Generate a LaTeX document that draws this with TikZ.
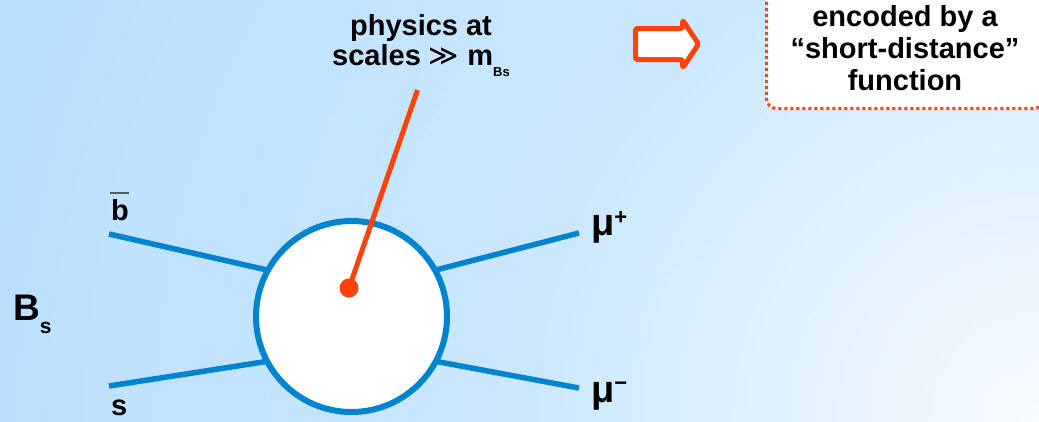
\documentclass[tikz,border=0pt]{standalone}
\usepackage{fontspec}
\setmainfont{Liberation Sans}
\newfontfamily\symfont{DejaVu Sans}
\usetikzlibrary{calc}

\definecolor{bgdeep}{RGB}{160,208,255}
\definecolor{bgmid}{RGB}{182,222,255}
\definecolor{bglight}{RGB}{204,232,255}
\definecolor{bgpale}{RGB}{248,251,255}
\definecolor{lineblue}{RGB}{0,132,208}
\definecolor{hotred}{RGB}{255,66,10}

% Sombreado radial del fondo (claro abajo a la derecha)
\pgfdeclareradialshading{bgglow}{\pgfpointorigin}{%
  color(0bp)=(bgpale); color(11bp)=(bglight); color(26bp)=(bgmid);
  color(45bp)=(bgdeep); color(75bp)=(bgdeep)}

\begin{document}
\begin{tikzpicture}[x=1pt, y=-1pt,
    quark line/.style={line width=5.5pt, lineblue},
    probe line/.style={line width=5pt, hotred},
    blob/.style={circle, draw=lineblue, line width=6pt, fill=white, minimum size=191pt, inner sep=0pt, outer sep=0pt},
    hot dot/.style={circle, fill=hotred, minimum size=19pt, inner sep=0pt},
    leg label/.style={font=\fontsize{29}{30}\selectfont\bfseries, inner sep=0pt, anchor=base west},
    top text/.style={font=\fontsize{29}{30}\selectfont\bfseries, align=center, inner sep=0pt, anchor=base},
    note box/.style={draw=hotred, fill=white, line width=3pt, dash pattern=on 3pt off 3pt, rounded corners=10pt,
        minimum width=277pt, minimum height=120pt, inner sep=0pt, align=center, font=\fontsize{29}{32}\selectfont\bfseries},
    hollow arrow/.style={draw=hotred, fill=white, line width=5pt, rounded corners=1.5pt, line join=round}
]

% 1. Fondo
\useasboundingbox (0,0) rectangle (1039,421);
\begin{scope}
  \clip (0,0) rectangle (1039,421);
  \shade[shading=bgglow] (1039,421) circle (1150);
\end{scope}

% 2. Circulo central y patas
\node[blob] (blob) at (351.5,316.5) {};
\coordinate (bbarend) at (109,234);
\coordinate (sqend) at (109,386);
\coordinate (muplusend) at (579,233);
\coordinate (muminusend) at (579,388);
\draw[quark line] (bbarend) -- (blob.151);
\draw[quark line] (sqend) -- (blob.208);
\draw[quark line] (muplusend) -- (blob.29);
\draw[quark line] (muminusend) -- (blob.332);

% 3. Punto rojo y linea hacia el texto
\node[hot dot] (core) at (349,288) {};
\coordinate (probetop) at (417.5,90);
\draw[probe line] (core.center) -- (probetop);

% 4. Etiquetas
\node[leg label, font=\fontsize{37}{37}\selectfont\bfseries] (bslbl) at (13,320)
  {B\raisebox{-13pt}{\fontsize{21}{21}\selectfont s}};
\node[leg label] (bbarlbl) at (111,220)
  {\makebox[0pt][l]{\hspace{-1pt}\raisebox{26.5pt}{\color{black!65}\rule{19pt}{1.5pt}}}b};
\node[leg label] (slbl) at (111,415) {s};
\node[leg label, font=\fontsize{38}{38}\selectfont\bfseries] (mupluslbl) at (591,235)
  {μ\raisebox{11pt}{\fontsize{22}{22}\selectfont +}};
\node[leg label, font=\fontsize{38}{38}\selectfont\bfseries] (muminuslbl) at (591,402)
  {μ\raisebox{12pt}{\fontsize{22}{22}\selectfont −}};

% texto superior (anchor base = ultima linea)
\node[top text] (scaleslbl) at (421,65)
  {physics at\\scales {\symfont\mdseries ≫} m\raisebox{-11pt}{\fontsize{13}{13}\selectfont Bs}};

% 5. Flecha y recuadro
\draw[hollow arrow] (635.5,28.5) -- (682.5,28.5) -- (682.5,20) -- (698.5,44)
  -- (682.5,68) -- (682.5,59.5) -- (635.5,59.5) -- cycle;
\node[note box] (shortdist) at (905,48.5)
  {encoded by a\\“short-distance”\\function};

\end{tikzpicture}
\end{document}
